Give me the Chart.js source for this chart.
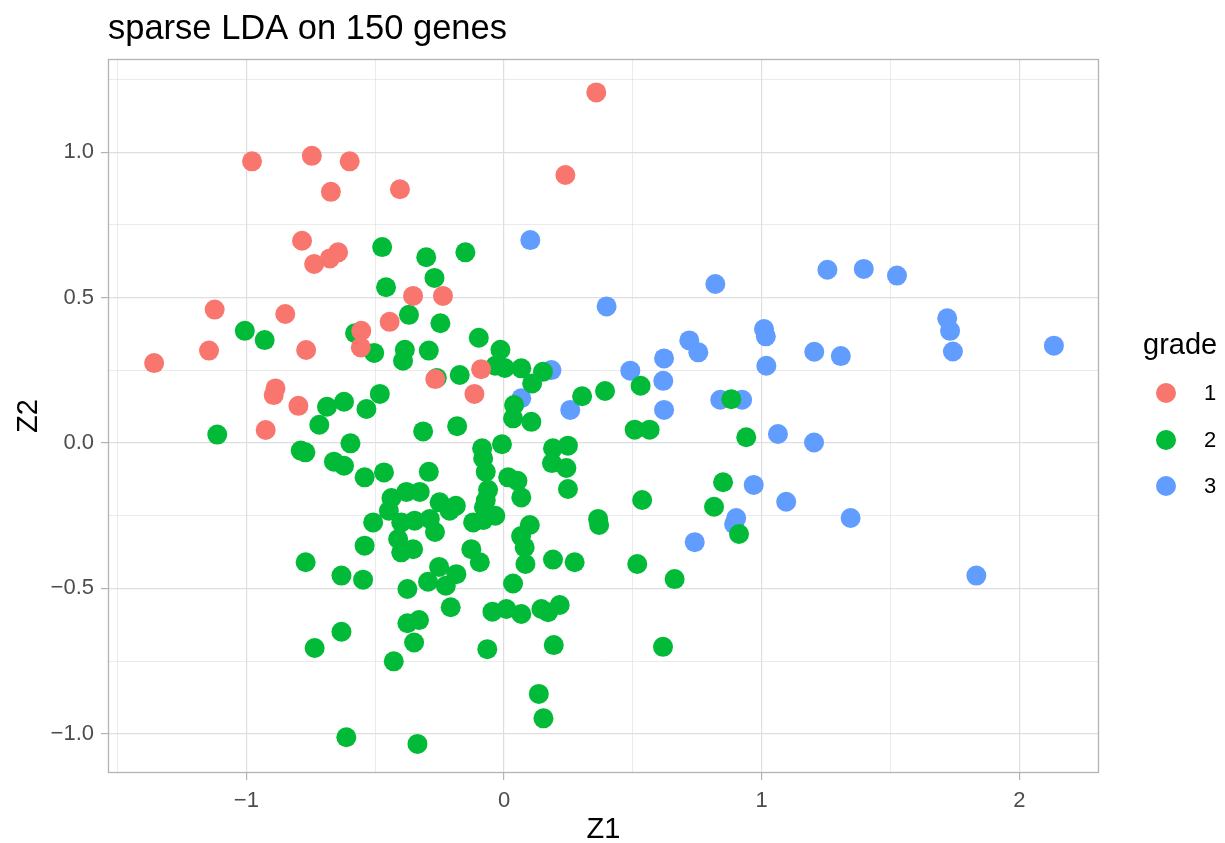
<!DOCTYPE html>
<html>
<head>
<meta charset="utf-8">
<title>sparse LDA on 150 genes</title>
<script src="https://cdn.jsdelivr.net/npm/chart.js@4/dist/chart.umd.min.js"></script>
<style>
  html, body { margin: 0; padding: 0; background: #ffffff; }
  #wrap { width: 1225px; height: 843px; }
</style>
</head>
<body>
<div id="wrap"><canvas id="c" width="1225" height="843"></canvas></div>
<script>
// Discriminant scores (Z1, Z2) per tumour grade
const grade1Z1 = [0.358, -0.978, -0.746, -0.599, -0.672, -0.404, 0.238, -0.784, -0.644, -0.676,
  -0.737, -1.123, -0.849, -0.353, -0.237, -0.444, -0.554, -0.556, -0.768, -1.145,
  -1.358, -0.887, -0.894, -0.798, -0.925, -0.089, -0.115, -0.267];
const grade1Z2 = [1.206, 0.969, 0.988, 0.969, 0.864, 0.873, 0.922, 0.696, 0.656, 0.635,
  0.616, 0.459, 0.444, 0.506, 0.506, 0.417, 0.386, 0.329, 0.320, 0.318,
  0.275, 0.188, 0.165, 0.128, 0.045, 0.254, 0.169, 0.220];

const grade2Z1 = [-0.473, -0.302, -0.150, -0.270, -0.458, -0.369, -0.247, -1.006, -0.929, -0.578,
  -0.504, -0.385, -0.392, -0.292, -0.098, -0.014, -0.034, 0.003, 0.067, 0.151,
  0.109, -0.261, -0.172, 0.303, 0.392, 0.530, 0.882, -0.482, -0.534, -0.687,
  -0.621, -0.717, -0.596, -1.113, -0.789, -0.771, -0.660, -0.621, 0.039, 0.035,
  0.106, -0.314, -0.182, -0.085, -0.008, -0.081, -0.071, 0.190, 0.248, 0.186,
  0.242, 0.248, 0.507, 0.565, 0.940, -0.541, -0.466, -0.292, 0.016, 0.052,
  0.067, -0.062, -0.071, -0.078, -0.034, -0.120, -0.081, -0.250, -0.187, -0.211,
  -0.437, -0.379, -0.327, -0.447, -0.508, -0.399, -0.347, -0.288, -0.268, 0.100,
  0.066, 0.365, 0.369, -0.411, 0.850, 0.815, 0.536, 0.912, -0.541, -0.399,
  -0.353, -0.127, -0.094, 0.080, 0.083, 0.190, 0.274, -0.547, -0.375, -0.252,
  -0.295, -0.185, -0.226, 0.035, -0.207, -0.045, 0.009, 0.067, 0.145, 0.171,
  0.216, -0.375, -0.330, -0.349, -0.428, -0.065, 0.193, 0.135, 0.153, -0.336,
  -0.770, -0.631, -0.631, -0.735, -0.612, 0.517, 0.662, 0.617];
const grade2Z2 = [0.674, 0.639, 0.656, 0.568, 0.536, 0.441, 0.412, 0.386, 0.354, 0.378,
  0.310, 0.321, 0.283, 0.318, 0.362, 0.321, 0.266, 0.258, 0.257, 0.245,
  0.205, 0.224, 0.234, 0.161, 0.179, 0.197, 0.151, 0.169, 0.117, 0.125,
  0.142, 0.063, -0.001, 0.029, -0.026, -0.032, -0.064, -0.078, 0.131, 0.085,
  0.073, 0.040, 0.058, -0.018, -0.004, -0.053, -0.099, -0.018, -0.009, -0.069,
  -0.086, -0.158, 0.046, 0.046, 0.020, -0.118, -0.101, -0.099, -0.118, -0.130,
  -0.187, -0.161, -0.198, -0.221, -0.250, -0.273, -0.265, -0.204, -0.216, -0.233,
  -0.189, -0.168, -0.168, -0.233, -0.273, -0.273, -0.267, -0.261, -0.306, -0.282,
  -0.320, -0.261, -0.282, -0.330, -0.135, -0.219, -0.196, -0.313, -0.353, -0.376,
  -0.365, -0.365, -0.410, -0.359, -0.416, -0.401, -0.410, -0.470, -0.502, -0.426,
  -0.477, -0.451, -0.491, -0.483, -0.565, -0.580, -0.571, -0.588, -0.571, -0.582,
  -0.557, -0.620, -0.609, -0.686, -0.751, -0.709, -0.695, -0.863, -0.947, -1.035,
  -0.410, -0.456, -0.649, -0.705, -1.012, -0.416, -0.468, -0.701];

const grade3Z1 = [0.102, 0.398, 0.820, 1.255, 1.396, 1.525, 1.720, 1.731, 1.742, 2.134,
  0.719, 0.754, 1.009, 1.016, 1.018, 1.204, 1.307, 0.621, 0.490, 0.618,
  0.621, 0.839, 0.924, 1.063, 1.203, 0.969, 1.095, 1.345, 0.901, 0.893,
  0.740, 1.833, 0.184, 0.067, 0.257];
const grade3Z2 = [0.698, 0.470, 0.547, 0.596, 0.599, 0.576, 0.429, 0.386, 0.315, 0.335,
  0.353, 0.312, 0.392, 0.367, 0.266, 0.314, 0.299, 0.291, 0.249, 0.214,
  0.114, 0.149, 0.149, 0.031, 0.002, -0.144, -0.202, -0.258, -0.258, -0.279,
  -0.341, -0.456, 0.251, 0.154, 0.114];

const gradeLabels = ['1', '2', '3'];
const gradeColors = ['#F8766D', '#00BA38', '#619CFF'];

// Axis breaks
const xMajor = [-1, 0, 1, 2];
const xMajorLabels = ['\u22121', '0', '1', '2'];
const xMinor = [-1.5, -0.5, 0.5, 1.5];
const yMajor = [-1, -0.5, 0, 0.5, 1];
const yMajorLabels = ['\u22121.0', '\u22120.5', '0.0', '0.5', '1.0'];
const yMinor = [-0.75, -0.25, 0.25, 0.75, 1.25];

const FONT = "'Liberation Sans', Arial, Helvetica, sans-serif";

function zip(xs, ys) { return xs.map((x, i) => ({ x: x, y: ys[i] })); }
function isIn(list, v) { return list.some(m => Math.abs(m - v) < 1e-9); }

function gridStyle(majors) {
  return {
    color: '#dedede',
    lineWidth: ctx => isIn(majors, ctx.tick.value) ? 1.2 : 0.6,
    drawTicks: true,
    tickLength: 7,
    tickColor: ctx => isIn(majors, ctx.tick.value) ? '#b3b3b3' : 'rgba(0,0,0,0)',
    tickWidth: 1.2
  };
}

// Panel frame, title and grade legend
const decorations = {
  id: 'decorations',
  afterDraw(chart) {
    const ctx = chart.ctx;
    const a = chart.chartArea;
    ctx.save();
    ctx.strokeStyle = '#b3b3b3';
    ctx.lineWidth = 1.3;
    ctx.strokeRect(Math.round(a.left) + 0.5, Math.round(a.top) + 0.5,
      Math.round(a.right - a.left) - 1, Math.round(a.bottom - a.top) - 1);

    ctx.fillStyle = '#000000';
    ctx.textAlign = 'left';
    ctx.textBaseline = 'alphabetic';
    ctx.font = '34.5px ' + FONT;
    ctx.fillText('sparse LDA on 150 genes', 108, 39);

    ctx.font = '29px ' + FONT;
    ctx.textBaseline = 'middle';
    ctx.fillText('grade', 1143, 346);

    const keyY = [393, 440, 486];
    ctx.font = '22px ' + FONT;
    gradeLabels.forEach((lab, i) => {
      ctx.beginPath();
      ctx.fillStyle = gradeColors[i];
      ctx.arc(1166, keyY[i], 10, 0, Math.PI * 2);
      ctx.fill();
      ctx.fillStyle = '#000000';
      ctx.fillText(lab, 1204, keyY[i] + 1);
    });
    ctx.restore();
  }
};

const datasets = [
  { label: gradeLabels[0], data: zip(grade1Z1, grade1Z2), backgroundColor: gradeColors[0] },
  { label: gradeLabels[1], data: zip(grade2Z1, grade2Z2), backgroundColor: gradeColors[1] },
  { label: gradeLabels[2], data: zip(grade3Z1, grade3Z2), backgroundColor: gradeColors[2] }
].map(d => Object.assign(d, { pointRadius: 10, pointHoverRadius: 10, borderWidth: 0, pointBorderWidth: 0 }));

new Chart(document.getElementById('c'), {
  type: 'scatter',
  data: { datasets: datasets },
  options: {
    responsive: false,
    devicePixelRatio: 1,
    animation: false,
    layout: { padding: { top: 59, right: 126, bottom: 0, left: 0 } },
    plugins: { legend: { display: false }, title: { display: false }, tooltip: { enabled: false } },
    scales: {
      x: {
        type: 'linear',
        min: -1.537,
        max: 2.309,
        afterBuildTicks: s => { s.ticks = xMinor.concat(xMajor).sort((a, b) => a - b).map(v => ({ value: v })); },
        afterFit: s => { s.height = 70; },
        ticks: {
          autoSkip: false,
          maxRotation: 0,
          padding: 8,
          color: '#4d4d4d',
          font: { family: FONT, size: 22 },
          callback: v => { const i = xMajor.findIndex(m => Math.abs(m - v) < 1e-9); return i >= 0 ? xMajorLabels[i] : ''; }
        },
        grid: gridStyle(xMajor),
        border: { display: false },
        title: { display: true, text: 'Z1', color: '#000000', font: { family: FONT, size: 29, lineHeight: 1 }, padding: { top: 0, bottom: -1 } }
      },
      y: {
        type: 'linear',
        min: -1.135,
        max: 1.321,
        afterBuildTicks: s => { s.ticks = yMinor.concat(yMajor).sort((a, b) => a - b).map(v => ({ value: v })); },
        afterFit: s => { s.width = 108; },
        ticks: {
          autoSkip: false,
          padding: 7,
          color: '#4d4d4d',
          font: { family: FONT, size: 22 },
          callback: v => { const i = yMajor.findIndex(m => Math.abs(m - v) < 1e-9); return i >= 0 ? yMajorLabels[i] : ''; }
        },
        grid: gridStyle(yMajor),
        border: { display: false },
        title: { display: true, text: 'Z2', color: '#000000', font: { family: FONT, size: 29, lineHeight: 1 }, padding: { top: 14, bottom: 0 } }
      }
    }
  },
  plugins: [decorations]
});
</script>
</body>
</html>
